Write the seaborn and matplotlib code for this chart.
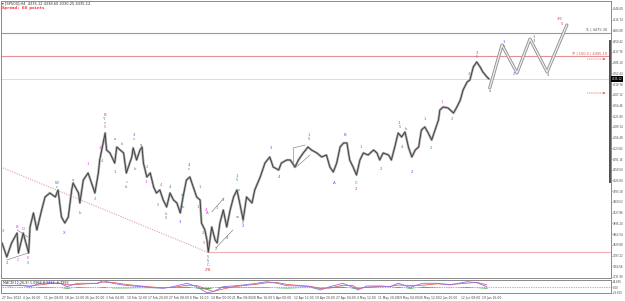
import numpy as np
import matplotlib
matplotlib.use("Agg")
import matplotlib.pyplot as plt
import seaborn as sns

sns.set_style("white")
plt.rcParams['font.family'] = ['DejaVu Sans']

# ---------------- data ----------------
bars = [0,7,14,22,24,31,39,41,46,51,58,63,70,78,82,87,92,97,102,104,112,114,119,126,131,136,141,143,146,151,
        153,158,165,168,173,178,182,185,190,192,197,202,205,207,212,217,222,226,231,236,241,246,251,256,261,265,270,275,280,285,
        290,292,297,300,302,307,312,315,319,324,329,334,339,344,348,353,358,366,370,378,385,392,397,405,409,417,422,429,434,441,
        448,453,461,468,475,480,485,490,495,500,505,509,514,519,524,529,536,544,549,553,558,566,570,575,580,585,590,595,600,605,
        610,614,619,624,629,634,639,641,646,653,661,666,671,675,681,685,690,695,700,704,710,713]
prices = [3835.4,3792.7,3835.4,3865.8,3804.9,3865.8,3804.9,3884.1,3926.8,3875.0,
          3935.9,3975.5,3987.7,3975.5,3996.9,3914.6,3896.3,3914.6,3996.9,4018.2,
          3987.7,3957.3,4027.3,4048.7,4018.2,3987.7,4048.7,4088.3,4118.7,4170.5,
          4118.7,4109.6,4079.1,4127.9,4118.7,4109.6,4048.7,4067.0,4097.4,4124.8,
          4088.3,4118.7,4127.9,4079.1,4036.5,4048.7,4006.0,3987.7,3996.9,3966.4,
          3945.1,3987.7,3966.4,3957.3,3926.8,3975.5,4027.3,4036.5,4006.0,3975.5,
          3966.4,3896.3,3875.0,3844.5,3808.0,3884.1,3844.5,3835.4,3896.3,3935.9,
          3884.1,3935.9,3975.5,3996.9,3957.3,3905.5,3975.5,3957.3,3996.9,4036.5,
          4079.1,4097.4,4067.0,4057.8,4079.1,4088.3,4088.3,4067.0,4088.3,4109.6,
          4127.9,4118.7,4109.6,4097.4,4103.5,4067.0,4051.7,4079.1,4127.9,4140.1,
          4140.1,4088.3,4067.0,4042.6,4088.3,4109.6,4103.5,4118.7,4109.6,4088.3,
          4109.6,4103.5,4088.3,4127.9,4170.5,4158.4,4173.6,4127.9,4097.4,4118.7,
          4127.9,4179.7,4189.0,4170.5,4149.2,4179.7,4210.2,4240.6,4249.8,4246.7,
          4231.5,4249.8,4271.1,4301.6,4326.0,4332.0,4371.7,4386.9,4371.7,4356.4,
          4341.2,4335.1]

proj_bars = [714, 732, 754, 773, 798, 827]
proj_prices = [4307.7, 4438.7, 4353.4, 4457.0, 4356.4, 4499.6]

level_tl = 4475.30
level_tp = 4405.19
level_cur = 4335.12
level_low = 3808.0
trend_bars = [-2, 300]
trend_prices = [4067.0, 3808.0]

wedges = [((7, 3783.6), (38, 3804.9)), ((22, 3875.0), (38, 3853.7)),
          ((307, 3929.8), (325, 3972.5)), ((313, 3820.2), (338, 3875.0)),
          ((426, 4124.8), (444, 4134.0)), ((426, 4124.8), (426, 4067.0)),
          ((429, 4063.9), (451, 4103.5))]

P, G, B, R = '#e040e0', '#3aa03a', '#5555ff', '#e04848'
wave_labels = [
    ("3", 1, 3871.9, G), ("4", 7, 3774.4, P), ("B", 22, 3884.1, P), ("C", 23, 3783.6, P),
    ("D", 31, 3878.0, P), ("E", 38, 3789.7, P), ("5", 38, 3774.4, G),
    ("W", 80, 4018.2, B), ("c", 80, 4006.0, G), ("X", 91, 3865.8, B),
    ("a", 104, 4027.3, G), ("b", 114, 3926.8, G), ("1", 126, 4076.1, P), ("2", 136, 3969.4, P),
    ("3", 143, 4124.8, P), ("4", 146, 4085.2, P),
    ("B", 150, 4226.0, R), ("Y", 150, 4213.0, B), ("c", 150, 4200.0, G), ("5", 150, 4187.5, P),
    ("a", 165, 4152.3, G), ("1", 165, 4051.7, B), ("b", 176, 4137.0, P),
    ("c", 182, 4021.2, P), ("b", 182, 4006.0, G), ("3", 193, 4164.5, B), ("c", 193, 4152.3, G),
    ("b", 195, 4060.9, G), ("a", 204, 4134.0, G), ("2", 212, 4067.0, P), ("1", 211, 4021.2, P),
    ("4", 233, 4012.1, P), ("5", 228, 3951.2, P), ("4", 246, 4006.0, G),
    ("b", 240, 3923.7, P), ("5", 240, 3911.6, G), ("3", 261, 3899.4, B),
    ("a", 264, 3981.6, G), ("b", 265, 3945.1, G), ("4", 274, 4073.0, B), ("c", 274, 4060.9, G),
    ("1", 290, 4006.0, G), ("1", 287, 3945.1, G), ("4", 299, 3935.9, P), ("A", 300, 3926.0, P),
    ("2", 294, 3865.8, G), ("5", 296, 3835.4, P),
    ("5", 302, 3792.7, G), ("5", 302, 3780.5, B), ("C", 302, 3768.3, R), ("2/B", 302, 3754.0, R),
    ("3", 324, 3966.4, G), ("1", 315, 3942.0, G), ("2", 313, 3817.1, G), ("4", 329, 3850.6, G),
    ("1", 344, 4039.5, B), ("5", 344, 4027.3, G), ("x", 347, 3996.9, G), ("w", 344, 3914.6, G),
    ("y", 353, 3899.4, B), ("2", 353, 3887.2, B),
    ("3", 394, 4124.8, B), ("4", 406, 4036.5, B), ("1", 449, 4164.5, R), ("5", 449, 4152.3, B),
    ("A", 486, 4018.2, B), ("B", 502, 4164.5, B), ("C", 518, 4018.2, B), ("2", 518, 4000.0, R),
    ("1", 526, 4127.9, G), ("2", 555, 4060.9, G),
    ("1", 581, 4201.0, B), ("3", 578, 4158.4, G), ("5", 583, 4189.0, G), ("4", 586, 4127.9, G),
    ("b", 592, 4182.7, G), ("2", 600, 4051.7, B), ("1", 619, 4213.2, G), ("2", 628, 4124.8, G),
    ("1", 644, 4265.0, P), ("2", 659, 4213.2, P),
    ("3", 695, 4414.3, G), ("5", 695, 4402.1, P), ("4", 684, 4350.3, P), ("a", 714, 4300.0, G),
    ("1", 735, 4447.8, B), ("b", 735, 4435.6, G), ("2", 750, 4350.3, B),
    ("3", 779, 4463.1, R), ("3", 779, 4450.9, B), ("4", 799, 4348.0, R),
    ("3/C", 817, 4517.9, R), ("5", 820, 4503.0, R),
]

macd_bars = [-3,12,26,41,56,70,85,95,110,124,139,148,162,177,192,206,221,236,250,271,285,300,309,324,338,353,
             373,388,403,417,436,451,466,480,499,514,521,534,553,568,580,597,616,637,656,681,695,710]
macd_main = [11.2,6.3,11.2,2.9,19.4,22.3,19.4,2.9,19.4,19.4,
             19.4,32.0,19.4,11.2,6.3,2.9,-1.9,-4.9,2.9,19.4,
             2.9,-26.2,-21.3,2.9,6.3,11.2,19.4,27.2,19.4,7.8,
             6.3,2.9,-13.1,2.9,19.4,0.0,-13.1,6.3,6.3,2.9,
             19.4,0.0,19.4,19.4,11.2,27.2,22.3,2.9]
macd_signal = [9.0,8.5,9.0,6.5,12.0,18.0,20.0,12.0,13.0,17.0,
               19.0,25.0,24.0,16.0,10.0,5.5,1.0,-2.5,-1.0,10.0,
               9.0,-10.0,-20.0,-8.0,2.0,8.0,15.0,22.0,23.0,14.0,
               8.5,5.0,-5.0,-4.0,10.0,8.0,-6.0,0.0,5.0,4.0,
               11.0,9.0,10.0,17.0,14.0,20.0,24.0,12.0]
macd_hist = [1.5,-1.2,1.4,-2.0,4.0,2.5,-0.5,-5.0,3.5,1.5,
             0.3,4.0,-2.5,-2.8,-2.0,-1.5,-1.6,-1.3,2.2,5.0,
             -3.4,-8.5,-0.8,6.0,2.4,1.8,2.5,2.9,-2.0,-3.4,
             -1.2,-1.2,-4.5,3.8,5.2,-4.4,-4.0,3.5,0.8,-0.6,
             4.6,-5.0,5.2,1.3,-1.6,4.0,-1.0,-5.0]

x_labels = ["27 Dec 2022", "4 Jan 16:00", "11 Jan 08:00", "18 Jan 12:00", "26 Jan 20:00",
            "3 Feb 04:00", "10 Feb 12:00", "17 Feb 20:00", "27 Feb 08:00", "6 Mar 16:00",
            "14 Mar 00:00", "21 Mar 08:00", "28 Mar 16:00", "5 Apr 00:00", "12 Apr 12:00",
            "19 Apr 20:00", "27 Apr 04:00", "4 May 12:00", "11 May 20:00", "19 May 04:00",
            "26 May 12:00", "2 Jun 20:00", "12 Jun 08:00", "19 Jun 16:00"]
x_tick_step = 30.55
price_tick_top = 4548.40
price_tick_step = 32.66
n_price_ticks = 26
macd_ticks = [26.695, 0.0, -26.615]
macd_tick_labels = ["26.695", "0.00", "-26.615"]

# ---------------- layout ----------------
W, H = 625, 301
fig = plt.figure(figsize=(W / 100, H / 100), dpi=100)
fig.patch.set_facecolor('white')

def rect(x0, y0, x1, y1):
    return [x0 / W, 1 - y1 / H, (x1 - x0) / W, (y1 - y0) / H]

ax = fig.add_axes(rect(1, 1, 611, 278))
axm = fig.add_axes(rect(1, 280, 611, 293.3), sharex=ax)

xmin, xmax = -1.5, 891.6
ax.set_xlim(xmin, xmax)
ax.set_ylim(3728.7, 4572.75)

for a in (ax, axm):
    for s in a.spines.values():
        s.set_color('#8a8a8a')
        s.set_linewidth(0.7)
    a.set_facecolor('white')

# levels
ax.axhline(level_tl, color='#9a9a9a', lw=0.8, zorder=1)
ax.axhline(level_tp, color='#e39090', lw=0.8, zorder=1)
ax.axhline(level_cur, color='#dcdcdc', lw=0.7, zorder=1)
ax.hlines(level_low, trend_bars[1], xmax, color='#f0b0b0', lw=0.8, zorder=1)
ax.plot(trend_bars, trend_prices, color='#e0a0a0', lw=0.8, ls=(0, (1, 1.2)), zorder=1)

for (p0, p1) in wedges:
    ax.plot([p0[0], p1[0]], [p0[1], p1[1]], color='#707070', lw=0.4, zorder=2)

# price path
sns.lineplot(x=bars, y=prices, ax=ax, color='#a8a8a8', lw=1.7, sort=False, estimator=None, zorder=3)
sns.lineplot(x=bars, y=prices, ax=ax, color='#3a3a3a', lw=0.6, sort=False, estimator=None, zorder=4)

# projection
sns.lineplot(x=proj_bars, y=proj_prices, ax=ax, color='#8c8c8c', lw=2.2, sort=False, estimator=None, zorder=3)
sns.lineplot(x=proj_bars, y=proj_prices, ax=ax, color='#ececec', lw=1.0, sort=False, estimator=None, zorder=4)

# thick marker on right edge
ax.vlines(889.5, 4018.0, 4454.0, color='#505050', lw=1.4, zorder=5)

# red dotted arrows
for lvl in (4396.0, 4292.4):
    ax.annotate('', xy=(888, lvl), xytext=(853, lvl),
                arrowprops=dict(arrowstyle='-|>', color='#e06060', lw=0.5, ls=':', mutation_scale=3))

ax.text(886, level_tl + 3, "TL | 4475.30", ha='right', va='bottom', fontsize=2.5, color='#555555')
ax.text(886, level_tp + 3, "TP | 100.0 | 4405.19", ha='right', va='bottom', fontsize=2.5, color='#e05050')

for txt, bx, py, col in wave_labels:
    ax.text(bx, py, txt, ha='center', va='center', fontsize=2.8, color=col, zorder=6)

# y axis right
ax.yaxis.tick_right()
yt = [price_tick_top - k * price_tick_step for k in range(n_price_ticks)]
ax.set_yticks(yt)
ax.set_yticklabels([f"{v:.2f}" for v in yt])
ax.tick_params(axis='y', labelsize=1.9, length=1.0, width=0.4, pad=0.3, colors='#444444')
ax.tick_params(axis='x', bottom=False, labelbottom=False)
ax.set_xlabel('')
ax.set_ylabel('')
ax.text(1.001, level_cur, f"{level_cur:.2f}", transform=ax.get_yaxis_transform(),
        fontsize=1.9, color='white', va='center', ha='left', zorder=10,
        bbox=dict(facecolor='black', edgecolor='none', pad=0.4))

# header
fig.text(2 / W, 1 - 3.5 / H, "\u25be [SP500],H4  4335.12 4338.60 4330.25 4335.12", fontsize=2.6,
         color='#333333', va='center', ha='left')
fig.text(2 / W, 1 - 8 / H, "Spread: 60 points", fontsize=3.1, color='#ff2020',
         family='DejaVu Sans Mono', weight='bold', va='center', ha='left')

# MACD
axm.set_ylim(-29.1, 35.4)
axm.axhline(0, color='#707070', lw=0.5, ls=(0, (1, 1.5)))
axm.fill_between(macd_bars, 0, macd_hist, color='#2f9a2f', lw=0, alpha=0.85)
sns.lineplot(x=macd_bars, y=macd_signal, ax=axm, color='#e86060', lw=0.6, sort=False, estimator=None)
sns.lineplot(x=macd_bars, y=macd_main, ax=axm, color='#8a70f0', lw=0.6, sort=False, estimator=None)
axm.yaxis.tick_right()
axm.set_yticks(macd_ticks)
axm.set_yticklabels(macd_tick_labels)
axm.tick_params(axis='y', labelsize=1.9, length=1.0, width=0.4, pad=0.3, colors='#444444')
axm.set_xlabel('')
axm.set_ylabel('')
axm.text(0.003, 0.92, "MACD(12,26,9) 1.0966 8.2213 -6.7993", transform=axm.transAxes,
         fontsize=2.4, color='#333333', va='top', ha='left')

xt = [k * x_tick_step for k in range(len(x_labels))]
axm.set_xticks(xt)
axm.set_xticklabels(x_labels, ha='left')
axm.tick_params(axis='x', labelsize=2.2, length=1.5, width=0.4, pad=0.8, colors='#444444')
axm.set_xlim(xmin, xmax)

fig.savefig("out.png", dpi=100, facecolor='white')
